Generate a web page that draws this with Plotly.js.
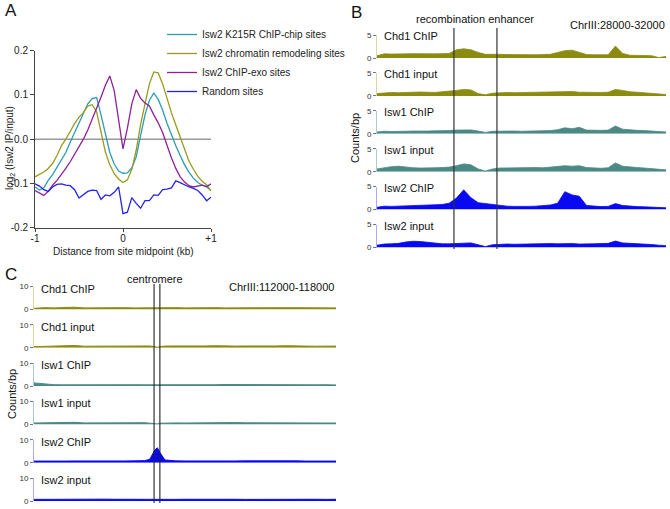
<!DOCTYPE html>
<html><head><meta charset="utf-8">
<script src="https://cdn.plot.ly/plotly-3.0.1.min.js"></script>
<style>html,body{margin:0;padding:0;background:#fff;}#chart{width:670px;height:509px;}</style>
</head><body><div id="chart"></div>
<script>
// ---------- Panel A data ----------
const distKb = [-1,-0.95,-0.9,-0.85,-0.8,-0.75,-0.7,-0.65,-0.6,-0.55,-0.5,-0.45,-0.4,-0.35,-0.3,-0.25,-0.2,-0.15,-0.1,-0.05,0,0.05,0.1,0.15,0.2,0.25,0.3,0.35,0.4,0.45,0.5,0.55,0.6,0.65,0.7,0.75,0.8,0.85,0.9,0.95,1];
const k215rSites = [-0.108,-0.115,-0.110,-0.093,-0.080,-0.063,-0.047,-0.030,-0.007,0.015,0.033,0.056,0.080,0.092,0.094,0.055,0.012,-0.030,-0.056,-0.072,-0.077,-0.076,-0.065,-0.040,0.008,0.055,0.088,0.104,0.090,0.066,0.036,0.010,-0.015,-0.037,-0.058,-0.075,-0.088,-0.098,-0.104,-0.108,-0.116];
const remodelingSites = [-0.085,-0.080,-0.074,-0.066,-0.055,-0.037,-0.015,0.000,0.018,0.035,0.050,0.060,0.075,0.078,0.062,0.015,-0.029,-0.058,-0.078,-0.090,-0.098,-0.092,-0.068,-0.025,0.033,0.080,0.125,0.152,0.150,0.125,0.092,0.060,0.032,0.005,-0.025,-0.050,-0.068,-0.084,-0.095,-0.103,-0.117];
const exoSites = [-0.116,-0.122,-0.127,-0.118,-0.104,-0.093,-0.080,-0.066,-0.051,-0.035,-0.019,0.000,0.021,0.045,0.069,0.095,0.122,0.143,0.110,0.045,-0.022,0.025,0.080,0.112,0.092,0.082,0.075,0.055,0.037,0.015,-0.015,-0.042,-0.066,-0.085,-0.097,-0.105,-0.108,-0.106,-0.104,-0.107,-0.101];
const randomSites = [-0.101,-0.106,-0.114,-0.118,-0.108,-0.102,-0.101,-0.104,-0.105,-0.114,-0.133,-0.126,-0.118,-0.115,-0.116,-0.136,-0.126,-0.128,-0.120,-0.108,-0.168,-0.165,-0.132,-0.145,-0.156,-0.139,-0.139,-0.126,-0.127,-0.114,-0.113,-0.110,-0.094,-0.098,-0.103,-0.108,-0.111,-0.116,-0.126,-0.139,-0.131];
const seriesNamesA = ['Isw2 K215R ChIP-chip sites','Isw2 chromatin remodeling sites','Isw2 ChIP-exo sites','Random sites'];
const tickValsA_y = [-0.2,-0.1,0,0.1,0.2];
const tickTextA_y = ['-0.2','-0.1','0.0','0.1','0.2'];
const tickValsA_x = [-1,0,1];
const tickTextA_x = ['-1','0','+1'];

// ---------- Panel B data (ChrIII:28000-32000) ----------
const posB = [28000,28100,28200,28300,28400,28500,28600,28700,28800,28900,29000,29100,29200,29300,29400,29500,29600,29700,29800,29900,30000,30100,30200,30300,30400,30500,30600,30700,30800,30900,31000,31100,31200,31300,31400,31500,31600,31700,31800,31900,32000];
const chd1ChipB  = [0.5,0.9,0.85,0.95,0.9,0.95,0.9,0.85,0.9,0.95,1.0,1.8,2.0,1.8,1.2,0.8,0.85,0.8,0.75,0.7,0.7,0.65,0.7,0.75,0.8,1.2,1.6,1.7,1.3,0.75,0.7,0.65,0.7,2.6,1.0,0.6,0.55,0.5,0.5,0.1,0.35];
const chd1InputB = [0.5,0.7,0.75,0.7,0.8,0.75,0.85,0.8,0.75,0.9,1.0,1.2,1.4,1.3,0.5,0.25,0.6,0.7,0.75,0.7,0.75,0.8,0.75,0.8,0.9,0.85,1.0,0.95,0.8,0.75,0.8,0.75,0.8,1.4,1.2,0.9,0.8,0.7,0.55,0.45,0.3];
const isw1ChipB  = [0.4,0.55,0.5,0.6,0.55,0.6,0.55,0.6,0.65,0.6,0.7,0.8,0.9,0.85,0.6,0.3,0.55,0.6,0.55,0.6,0.55,0.6,0.65,0.6,0.7,0.9,1.3,1.1,1.4,0.8,0.7,0.75,0.8,1.7,1.0,0.8,0.75,0.7,0.6,0.5,0.4];
const isw1InputB = [0.6,0.9,1.1,1.2,1.0,0.85,0.8,0.9,0.85,0.9,1.0,1.3,1.7,1.5,0.6,0.15,0.6,0.8,0.85,0.8,0.8,0.85,0.9,0.85,1.0,1.1,1.3,1.2,1.3,0.9,0.8,0.75,0.85,1.9,1.2,1.0,0.9,0.8,0.7,0.5,0.4];
const isw2ChipB  = [0.5,0.75,0.7,0.75,0.8,0.75,0.8,0.9,1.0,1.1,1.4,2.5,4.3,2.6,1.5,1.3,1.1,0.9,0.75,0.7,0.65,0.7,0.75,0.8,1.0,1.4,3.9,3.2,2.9,0.9,0.7,0.65,0.7,1.3,0.9,0.7,0.65,0.6,0.55,0.5,0.4];
const isw2InputB = [0.5,0.75,0.8,0.9,1.2,1.35,1.3,1.1,0.9,0.8,0.8,0.9,1.0,1.0,0.6,0.2,0.6,0.7,0.75,0.7,0.75,0.7,0.8,0.75,0.85,0.8,0.9,0.85,0.75,0.7,0.8,0.85,0.9,1.4,1.0,0.9,0.85,0.8,0.65,0.5,0.4];
const reBounds = [29065, 29660];

// ---------- Panel C data (ChrIII:112000-118000) ----------
const posC = [112000,112200,112400,112600,112800,113000,113200,113400,113600,113800,114000,114200,114300,114400,114450,114500,114600,114800,115000,115200,115400,115600,115800,116000,116200,116400,116600,116800,117000,117200,117400,117600,117800,118000];
const chd1ChipC  = [0.5,0.8,0.7,0.9,1.0,0.7,0.8,0.7,0.75,0.8,0.7,0.75,0.7,0.8,0.9,0.8,0.75,0.8,0.7,0.8,0.85,0.8,0.7,0.75,0.8,0.9,0.75,0.7,0.75,0.8,0.75,0.7,0.8,0.7];
const chd1InputC = [0.5,0.7,0.75,0.8,1.0,0.7,0.75,0.7,0.8,0.9,0.75,0.9,0.8,0.5,0.2,0.5,0.75,0.8,0.7,0.75,0.8,0.9,0.7,0.75,0.8,0.7,0.75,0.8,0.9,0.7,0.75,0.7,0.8,0.75];
const isw1ChipC  = [1.4,1.0,0.6,0.55,0.6,0.5,0.55,0.6,0.5,0.55,0.6,0.55,0.5,0.3,0.5,0.55,0.6,0.55,0.6,0.5,0.55,0.6,0.7,0.65,0.6,0.55,0.6,0.5,0.55,0.6,0.5,0.55,0.6,0.5];
const isw1InputC = [0.6,0.7,0.6,0.75,0.9,0.65,0.6,0.7,0.65,0.6,0.7,0.75,0.6,0.3,0.2,0.5,0.6,0.65,0.6,0.7,0.65,0.6,0.75,0.8,0.7,0.65,0.6,0.7,0.65,0.6,0.7,0.65,0.6,0.6];
const isw2ChipC  = [0.7,0.8,0.75,0.7,0.75,0.7,0.8,0.75,0.7,0.75,0.8,0.9,1.5,5.5,6.5,4.5,1.2,0.8,0.75,0.7,0.8,0.75,0.7,0.75,0.8,0.85,0.75,0.7,0.75,0.8,0.7,0.75,0.8,0.7];
const isw2InputC = [0.7,0.75,0.7,0.75,0.8,0.75,0.7,0.8,0.75,0.7,0.75,0.8,0.75,0.7,0.6,0.7,0.75,0.7,0.75,0.8,0.7,0.75,0.8,0.75,0.7,0.75,0.8,0.75,0.7,0.75,0.8,0.75,0.7,0.75];
const cenBounds = [114385, 114501];

const trackNames = ['Chd1 ChIP','Chd1 input','Isw1 ChIP','Isw1 input','Isw2 ChIP','Isw2 input'];
const tracksB = [chd1ChipB, chd1InputB, isw1ChipB, isw1InputB, isw2ChipB, isw2InputB];
const tracksC = [chd1ChipC, chd1InputC, isw1ChipC, isw1InputC, isw2ChipC, isw2InputC];
const maxB = 5, maxC = 10;

// ---------- build ----------
const W = 670, H = 509;
const fx = p => p / W;
const fy = p => 1 - p / H;
const F = 'Arial, "Liberation Sans", sans-serif';

const colA = ['#2b9cb2', '#9a9a1e', '#8e2199', '#2424e8'];
const trackCol = ['#8b8b12','#8b8b12','#4b8985','#4b8985','#0808f2','#0808f2'];
const axisCol  = ['#d8d8a0','#d8d8a0','#a9cfcc','#a9cfcc','#a8a8ff','#a8a8ff'];

const traces = [];
[k215rSites, remodelingSites, exoSites, randomSites].forEach((v, i) => {
  traces.push({x: distKb, y: v, type: 'scatter', mode: 'lines', name: seriesNamesA[i],
    line: {color: colA[i], width: 1.3}, xaxis: 'x', yaxis: 'y', hoverinfo: 'skip'});
});

const layout = {
  width: W, height: H, autosize: false,
  margin: {l: 0, r: 0, t: 0, b: 0, pad: 0},
  paper_bgcolor: '#fff', plot_bgcolor: 'rgba(0,0,0,0)',
  font: {family: F, color: '#222', size: 10},
  showlegend: true,
  legend: {x: fx(162), y: fy(20), xanchor: 'left', yanchor: 'top', bgcolor: 'rgba(0,0,0,0)',
           font: {family: F, size: 10, color: '#222'}, borderwidth: 0, tracegroupgap: 0},
  xaxis: {domain: [fx(35), fx(211)], range: [-1, 1], anchor: 'y', showgrid: false, zeroline: false,
          showline: true, linecolor: '#444', linewidth: 1, ticks: 'outside', ticklen: 3, tickcolor: '#444',
          ticklabelstandoff: -2,
          tickvals: tickValsA_x, ticktext: tickTextA_x, tickfont: {size: 10, color: '#222'}, fixedrange: true},
  yaxis: {domain: [fy(227.7), fy(50.7)], range: [-0.2, 0.2], anchor: 'x', showgrid: false, zeroline: false,
          showline: true, linecolor: '#444', linewidth: 1, ticks: 'outside', ticklen: 4, tickcolor: '#444',
          tickvals: tickValsA_y, ticktext: tickTextA_y, tickfont: {size: 10, color: '#222'}, fixedrange: true},
  xaxis2: {domain: [fx(377), fx(666)], range: [posB[0], posB[posB.length - 1]], anchor: 'y7', visible: false, fixedrange: true},
  xaxis3: {domain: [fx(34), fx(336)], range: [posC[0], posC[posC.length - 1]], anchor: 'y13', visible: false, fixedrange: true},
  shapes: [],
  annotations: []
};

function trackAxis(base, maxV, col) {
  return {domain: [fy(base), fy(base - 23)], range: [0, maxV], showgrid: false, zeroline: false,
    showline: true, linecolor: col, linewidth: 1, ticks: 'outside', ticklen: 3, tickcolor: '#777', tickwidth: 1,
    tickvals: [0, maxV], tickfont: {size: 8, color: '#333'}, fixedrange: true};
}

const ann = (text, x, y, opts) => Object.assign({text, x: fx(x), y: fy(y), xref: 'paper', yref: 'paper',
  showarrow: false, xanchor: 'center', yanchor: 'middle', font: {family: F, size: 11, color: '#111'}}, opts || {});

for (let i = 0; i < 6; i++) {
  // Panel B
  const nB = 2 + i, baseB = 58 + i * 37.9;
  layout['yaxis' + nB] = Object.assign(trackAxis(baseB, maxB, axisCol[i]), {anchor: 'x2'});
  traces.push({x: posB, y: tracksB[i], type: 'scatter', mode: 'lines', fill: 'tozeroy',
    fillcolor: trackCol[i], line: {color: trackCol[i], width: 0.8}, xaxis: 'x2', yaxis: 'y' + nB,
    showlegend: false, hoverinfo: 'skip'});
  layout.annotations.push(ann(trackNames[i], 382, baseB - 22, {xanchor: 'left'}));
  // Panel C
  const nC = 8 + i, baseC = 309.5 + i * 38.3;
  layout['yaxis' + nC] = Object.assign(trackAxis(baseC, maxC, axisCol[i]), {anchor: 'x3'});
  traces.push({x: posC, y: tracksC[i], type: 'scatter', mode: 'lines', fill: 'tozeroy',
    fillcolor: trackCol[i], line: {color: trackCol[i], width: 1}, xaxis: 'x3', yaxis: 'y' + nC,
    showlegend: false, hoverinfo: 'skip'});
  layout.annotations.push(ann(trackNames[i], 39, baseC - 21, {xanchor: 'left'}));
}

// zero line in A
layout.shapes.push({type: 'line', xref: 'x', yref: 'y', x0: -1, x1: 1, y0: 0, y1: 0,
  line: {color: '#999', width: 1.5}, layer: 'below'});
// region boundaries
reBounds.forEach(b => layout.shapes.push({type: 'line', xref: 'x2', yref: 'paper', x0: b, x1: b,
  y0: fy(249), y1: fy(28), line: {color: '#333', width: 1.2}}));
cenBounds.forEach(b => layout.shapes.push({type: 'line', xref: 'x3', yref: 'paper', x0: b, x1: b,
  y0: fy(503), y1: fy(284), line: {color: '#222', width: 1.1}}));

// texts
layout.annotations.push(
  ann('A', 11, 11, {font: {family: F, size: 17, color: '#111'}}),
  ann('B', 356, 12, {font: {family: F, size: 17, color: '#111'}}),
  ann('C', 11, 274, {font: {family: F, size: 17, color: '#111'}}),
  ann('Distance from site midpoint (kb)', 123, 252, {font: {family: F, size: 10, color: '#222'}}),
  ann('log<sub>2</sub> (Isw2 IP/input)', 10, 148, {textangle: -90, font: {family: F, size: 10, color: '#222'}}),
  ann('recombination enhancer', 475, 19),
  ann('ChrIII:28000-32000', 667, 25, {xanchor: 'right'}),
  ann('centromere', 155, 279),
  ann('ChrIII:112000-118000', 336, 287, {xanchor: 'right'}),
  ann('Counts/bp', 355, 138, {textangle: -90}),
  ann('Counts/bp', 12, 394, {textangle: -90})
);

Plotly.newPlot('chart', traces, layout, {staticPlot: true, displayModeBar: false});
</script></body></html>
